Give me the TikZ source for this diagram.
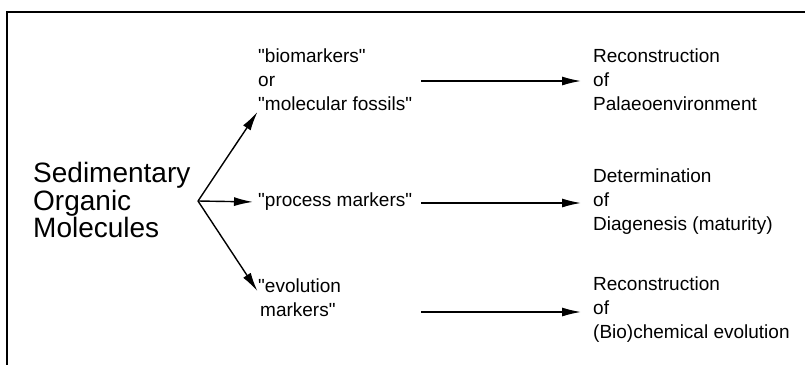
\documentclass[tikz,border=0pt]{standalone}
\usepackage{fontspec}
\setmainfont{Liberation Sans}[Ligatures=TeXOff]
\usetikzlibrary{arrows.meta}
\begin{document}
\begin{tikzpicture}[x=1pt,y=-1pt,
  txt/.style={inner sep=0pt, anchor=west, align=left, font=\fontsize{19}{24}\selectfont},
  big/.style={inner sep=0pt, anchor=west, align=left, font=\fontsize{28}{27.5}\selectfont},
  arr/.style={-{Latex[length=19pt,width=9pt]}, line width=1.4pt},
  frame/.style={line width=1.4pt}]
\useasboundingbox (0,0) rectangle (805,365);
% frame
\coordinate (ftl) at (7,12);
\coordinate (ftr) at (805,12);
\coordinate (fbl) at (7,365);
\draw[frame] (ftr) -- (ftl) -- (fbl);
% nodes
\node[big] (src) at (33,200) {Sedimentary\\Organic\\Molecules};
\coordinate (b) at (198,201);
\node[txt] (bio) at (258,80) {"biomarkers"\\or\\"molecular fossils"};
\node[txt] (proc) at (258,202) {"process markers"};
\node[txt] (evo) at (258,298) {"evolution\\\hspace*{2pt}markers"};
\node[txt] (r1) at (593,80) {Reconstruction\\of\\Palaeoenvironment};
\node[txt] (r2) at (593,202) {Determination\\of\\Diagenesis (maturity)};
\node[txt] (r3) at (593,310) {Reconstruction\\of\\(Bio)chemical evolution};
% branch arrows
\draw[arr, shorten >=1pt] (b) -- (bio.south west);
\draw[arr, shorten >=5pt] (b) -- (proc.west);
\draw[arr, shorten >=1pt] (b) -- ([yshift=6pt]evo.west);
% right arrows
\coordinate (s1) at (421,81);
\coordinate (s2) at (421,203);
\coordinate (s3) at (421,312);
\draw[arr, shorten >=12pt] (s1) -- (s1 -| r1.west);
\draw[arr, shorten >=12pt] (s2) -- (s2 -| r2.west);
\draw[arr, shorten >=12pt] (s3) -- (s3 -| r3.west);
\end{tikzpicture}
\end{document}
